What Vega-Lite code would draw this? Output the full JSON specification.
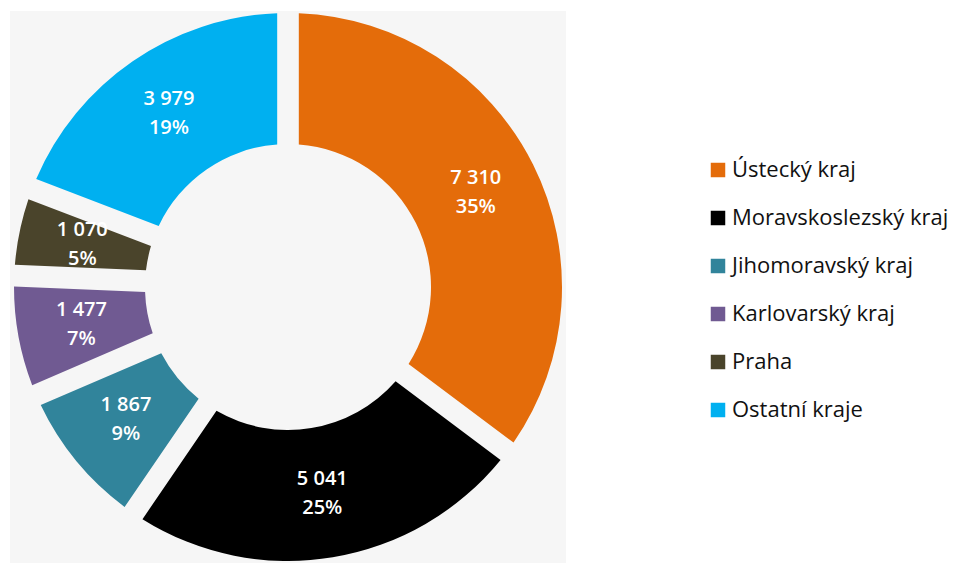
{
  "$schema": "https://vega.github.io/schema/vega-lite/v6.json",
  "width": 556,
  "height": 552,
  "autosize": {"type": "none"},
  "padding": {"left": 10, "top": 11, "right": 408, "bottom": 0},
  "background": "white",
  "view": {"fill": "#f6f6f6", "stroke": null},
  "config": {
    "locale": {"number": {"decimal": ",", "thousands": " ", "grouping": [3], "currency": ["", " Kč"]}}
  },
  "data": {
    "values": [
      {"kraj": "Ústecký kraj", "pocet": 7310, "podil": 0.35, "poradi": 1},
      {"kraj": "Moravskoslezský kraj", "pocet": 5041, "podil": 0.25, "poradi": 2},
      {"kraj": "Jihomoravský kraj", "pocet": 1867, "podil": 0.09, "poradi": 3},
      {"kraj": "Karlovarský kraj", "pocet": 1477, "podil": 0.07, "poradi": 4},
      {"kraj": "Praha", "pocet": 1070, "podil": 0.05, "poradi": 5},
      {"kraj": "Ostatní kraje", "pocet": 3979, "podil": 0.19, "poradi": 6}
    ]
  },
  "encoding": {
    "theta": {"field": "pocet", "type": "quantitative", "stack": true},
    "order": {"field": "poradi", "type": "quantitative", "sort": "ascending"}
  },
  "layer": [
    {
      "mark": {"type": "arc", "innerRadius": 143, "outerRadius": 274, "padAngle": 0.07},
      "encoding": {
        "color": {
          "field": "kraj",
          "type": "nominal",
          "sort": ["Ústecký kraj", "Moravskoslezský kraj", "Jihomoravský kraj", "Karlovarský kraj", "Praha", "Ostatní kraje"],
          "scale": {
            "domain": ["Ústecký kraj", "Moravskoslezský kraj", "Jihomoravský kraj", "Karlovarský kraj", "Praha", "Ostatní kraje"],
            "range": ["#e46c0a", "#000000", "#31849b", "#705a92", "#4a442b", "#00b0f0"]
          },
          "legend": {
            "title": null,
            "orient": "none",
            "legendX": 697,
            "legendY": 148,
            "symbolType": "square",
            "symbolSize": 210,
            "symbolStrokeWidth": 0,
            "labelFont": "Open Sans",
            "labelFontSize": 22,
            "labelColor": "#111111",
            "labelOffset": 3,
            "rowPadding": 26,
            "labelLimit": 300
          }
        }
      }
    },
    {
      "mark": {"type": "text", "radius": 210, "dy": -15, "font": "Open Sans", "fontSize": 20, "fontWeight": 600, "color": "white"},
      "encoding": {"text": {"field": "pocet", "type": "quantitative", "format": ",d"}}
    },
    {
      "mark": {"type": "text", "radius": 210, "dy": 14, "font": "Open Sans", "fontSize": 20, "fontWeight": 600, "color": "white"},
      "encoding": {"text": {"field": "podil", "type": "quantitative", "format": ".0%"}}
    }
  ]
}
